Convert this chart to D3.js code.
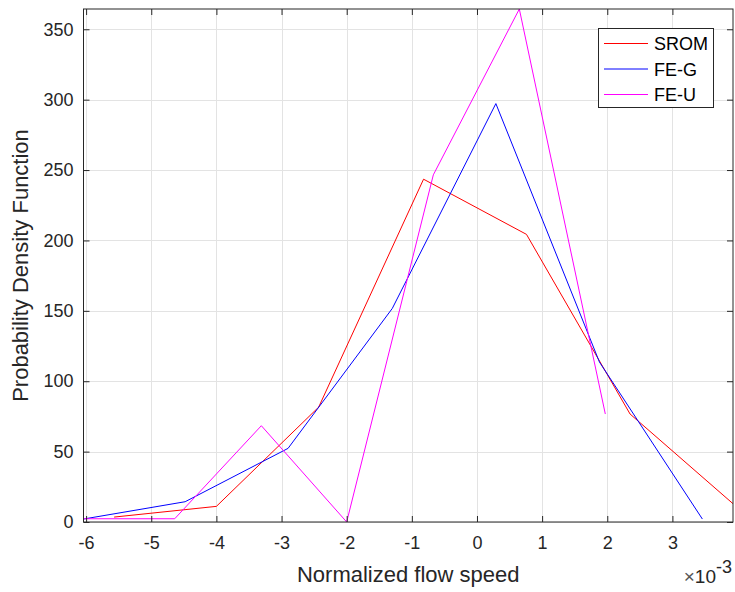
<!DOCTYPE html>
<html>
<head>
<meta charset="utf-8">
<script src="https://cdn.jsdelivr.net/npm/d3@7"></script>
<style>
  body { margin: 0; background: #fff; }
  svg { display: block; font-family: 'Liberation Sans', Arial, sans-serif; }
</style>
</head>
<body>
<div id="spa"></div>
<script>
// x values are in units of 1e-3
const sromX = [-5.57, -4.00, -2.43, -0.82, 0.76, 2.35, 3.93]
const sromY = [3.5, 11.1, 81.6, 243.5, 204.3, 76.7, 13.0]
const fegX = [-6.04, -4.48, -2.90, -1.30, 0.29, 1.88, 3.46]
const fegY = [2.1, 14.4, 52.3, 151.7, 297.2, 113.6, 2.1]
const feuX = [-6.04, -4.64, -3.31, -2.00, -0.67, 0.65, 1.97]
const feuY = [2.3, 2.3, 68.4, 0, 246.6, 364.4, 76.7]

const xTicks = [-6, -5, -4, -3, -2, -1, 0, 1, 2, 3]
const yTicks = [0, 50, 100, 150, 200, 250, 300, 350]

const seriesNames = ['SROM', 'FE-G', 'FE-U']
const seriesColors = ['#ff0000', '#0000ff', '#ff00ff']

const series = [
    sromX.map((x, i) => [x, sromY[i]]),
    fegX.map((x, i) => [x, fegY[i]]),
    feuX.map((x, i) => [x, feuY[i]])
]

const chartWidth = 735
const chartHeight = 592
const plotLeft = 83.5, plotRight = 733, plotTop = 9, plotBottom = 522

const svg = d3.select('#spa')
    .append('svg')
    .attr('width', chartWidth)
    .attr('height', chartHeight)

const allPts = series.flat()
const xScale = d3.scaleLinear()
    .domain(d3.extent(allPts, d => d[0]))
    .range([plotLeft, plotRight])
const yScale = d3.scaleLinear()
    .domain([0, d3.max(allPts, d => d[1])])
    .range([plotBottom, plotTop])

// grid
const grid = svg.append('g').attr('stroke', '#e3e3e3').attr('stroke-width', 1)
grid.selectAll('.gx').data(xTicks).enter().append('line')
    .attr('x1', d => Math.round(xScale(d)) + 0.5).attr('x2', d => Math.round(xScale(d)) + 0.5)
    .attr('y1', plotTop).attr('y2', plotBottom)
grid.selectAll('.gy').data(yTicks).enter().append('line')
    .attr('y1', d => Math.round(yScale(d)) + 0.5).attr('y2', d => Math.round(yScale(d)) + 0.5)
    .attr('x1', plotLeft).attr('x2', plotRight)

// series lines
const line = d3.line().x(d => xScale(d[0])).y(d => yScale(d[1]))
svg.append('g').selectAll('path')
    .data(series)
    .enter()
    .append('path')
    .attr('d', line)
    .attr('fill', 'none')
    .attr('stroke', (d, i) => seriesColors[i])
    .attr('stroke-width', 1)

// axes (inward ticks, box on)
const axisColor = '#262626'
const tickLen = 6
const plain = d => String(d)
const styleAxis = g => {
    g.select('.domain').remove()
    g.selectAll('.tick line').attr('stroke', axisColor)
    g.selectAll('.tick text').attr('fill', axisColor).attr('font-size', 18)
        .attr('font-family', "'Liberation Sans', Arial, sans-serif")
}

svg.append('g')
    .attr('transform', `translate(0, ${plotBottom})`)
    .call(d3.axisBottom(xScale).tickValues(xTicks).tickSizeInner(-tickLen).tickSizeOuter(0).tickPadding(14).tickFormat(plain))
    .call(styleAxis)
svg.append('g')
    .attr('transform', `translate(0, ${plotTop})`)
    .call(d3.axisTop(xScale).tickValues(xTicks).tickSizeInner(-tickLen).tickSizeOuter(0).tickFormat(''))
    .call(styleAxis)
svg.append('g')
    .attr('transform', `translate(${plotLeft}, 0)`)
    .call(d3.axisLeft(yScale).tickValues(yTicks).tickSizeInner(-tickLen).tickSizeOuter(0).tickPadding(10).tickFormat(plain))
    .call(styleAxis)
svg.append('g')
    .attr('transform', `translate(${plotRight}, 0)`)
    .call(d3.axisRight(yScale).tickValues(yTicks).tickSizeInner(-tickLen).tickSizeOuter(0).tickFormat(''))
    .call(styleAxis)

svg.append('rect')
    .attr('x', plotLeft).attr('y', plotTop)
    .attr('width', plotRight - plotLeft).attr('height', plotBottom - plotTop)
    .attr('fill', 'none')
    .attr('stroke', axisColor)
    .attr('stroke-width', 1)

// labels
svg.append('text')
    .attr('x', (plotLeft + plotRight) / 2)
    .attr('y', 582)
    .attr('text-anchor', 'middle')
    .attr('font-size', 22)
    .attr('fill', axisColor)
    .text('Normalized flow speed')

svg.append('text')
    .attr('transform', `translate(28, ${(plotTop + plotBottom) / 2}) rotate(-90)`)
    .attr('text-anchor', 'middle')
    .attr('font-size', 22)
    .attr('fill', axisColor)
    .text('Probability Density Function')

const expo = svg.append('text')
    .attr('x', 732)
    .attr('y', 583)
    .attr('text-anchor', 'end')
    .attr('font-size', 19)
    .attr('fill', axisColor)
expo.append('tspan').attr('fill', '#555').text('\u00d7')
expo.append('tspan').text('10')
expo.append('tspan').attr('dy', -10).attr('font-size', 18).text('-3')

// legend
const legend = svg.append('g')
legend.append('rect')
    .attr('x', 598.5).attr('y', 28.5)
    .attr('width', 115).attr('height', 79)
    .attr('fill', '#fff')
    .attr('stroke', axisColor)
const rows = legend.selectAll('.row')
    .data(seriesNames)
    .enter()
    .append('g')
    .attr('transform', (d, i) => `translate(0, ${43.5 + i * 25.5})`)
rows.append('line')
    .attr('x1', 604).attr('x2', 648)
    .attr('stroke', (d, i) => seriesColors[i])
rows.append('text')
    .attr('x', 654)
    .attr('y', 6.5)
    .attr('font-size', 18)
    .attr('fill', '#000')
    .text(d => d)
</script>
</body>
</html>
